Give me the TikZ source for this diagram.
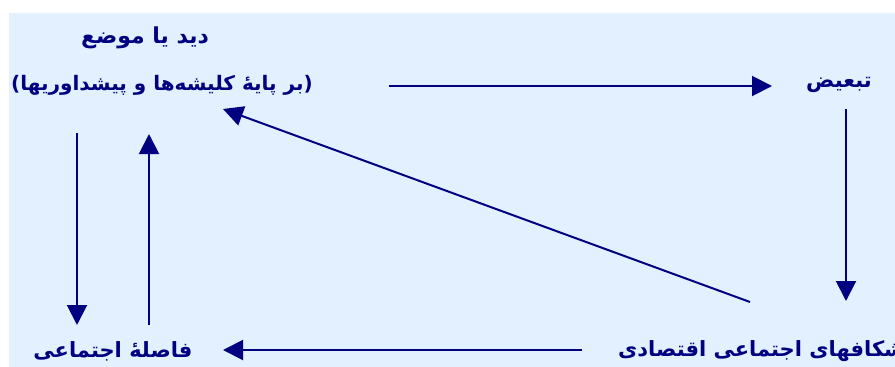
\documentclass[tikz,border=0pt]{standalone}
\usepackage{fontspec}
\usetikzlibrary{arrows.meta}
\TeXXeTstate=1
\newfontfamily\fafont[Script=Arabic]{DejaVu Sans}
\definecolor{bgblue}{RGB}{227,240,255}
\definecolor{navy}{RGB}{0,0,128}
\begin{document}
\begin{tikzpicture}[x=1pt,y=-1pt,
  lbl/.style={text=navy,font=\fafont\bfseries\fontsize{21}{24}\selectfont,inner sep=0pt},
  arr/.style={draw=navy,line width=2pt,-{Triangle[length=20pt,width=20pt]}}]
\useasboundingbox (0,0) rectangle (895,367);
\fill[bgblue] (9,13) rectangle (895,367);
% texts
\node[lbl,font=\fafont\bfseries\fontsize{22}{25}\selectfont] (t1) at (145,38) {\beginR دید یا موضع\endR};
\node[lbl,font=\fafont\bfseries\fontsize{20}{23}\selectfont] (t2) at (162,85) {\beginR(بر پایهٔ کلیشه‌ها و پیشداوریها)\endR};
\node[lbl] (t3) at (839,85) {\beginR تبعیض\endR};
\node[lbl] (t4) at (113,351) {\beginR فاصلهٔ اجتماعی\endR};
\node[lbl,anchor=west] (t5) at (618,351) {\beginR شکافهای اجتماعی اقتصادی\endR};
% connector end points
\coordinate (a1) at (389,86);  \coordinate (a2) at (772,86);
\coordinate (b1) at (846,109); \coordinate (b2) at (846,301);
\coordinate (c1) at (582,350); \coordinate (c2) at (223,350);
\coordinate (d1) at (750,302); \coordinate (d2) at (223,109);
\coordinate (e1) at (77,133);  \coordinate (e2) at (77,325);
\coordinate (f1) at (149,325); \coordinate (f2) at (149,134);
\draw[arr] (a1) -- (a2);
\draw[arr] (b1) -- (b2);
\draw[arr] (c1) -- (c2);
\draw[arr] (d1) -- (d2);
\draw[arr] (e1) -- (e2);
\draw[arr] (f1) -- (f2);
\end{tikzpicture}
\end{document}
